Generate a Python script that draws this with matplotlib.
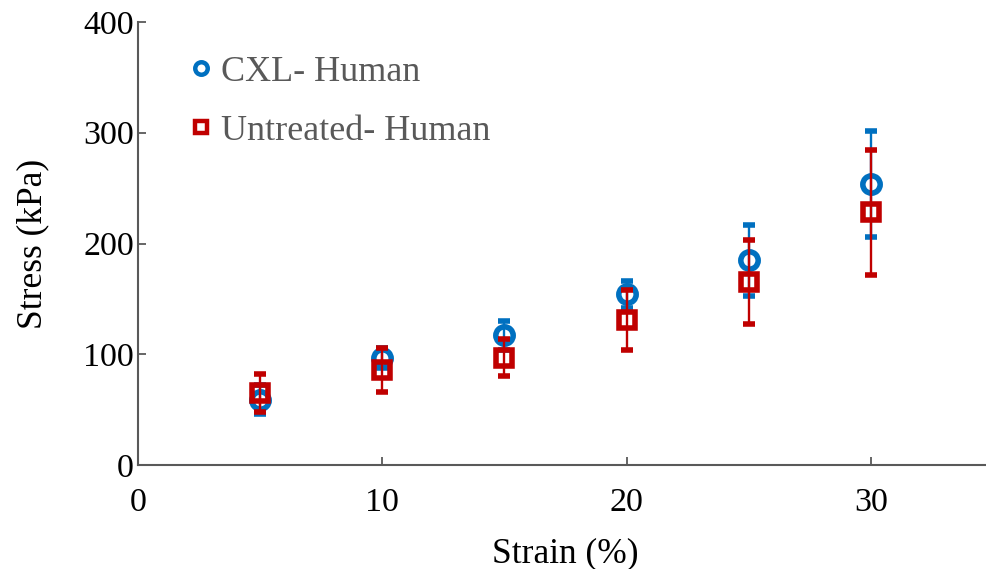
import matplotlib
matplotlib.use("Agg")
import matplotlib.pyplot as plt
from matplotlib.lines import Line2D

# strain levels (%) and mean stress (kPa) with standard deviations
strain = [5, 10, 15, 20, 25, 30]
cxl_stress = [59, 97, 117, 154, 185, 254]
cxl_sd = [13, 9, 13, 12, 32, 48]
untreated_stress = [65, 86, 97, 131, 165, 228]
untreated_sd = [17, 20, 17, 27, 38, 56]

blue = "#0070C0"
red = "#C00000"
axis_grey = "#595959"

plt.rcParams["font.family"] = ["Liberation Serif", "DejaVu Serif"]

fig = plt.figure(figsize=(9.87, 5.69), dpi=100)
ax = fig.add_axes([138 / 987, 104 / 569, (993 - 138) / 987, (465 - 22) / 569])

ax.errorbar(strain, cxl_stress, yerr=cxl_sd, fmt="o", color=blue,
            mfc="none", mec=blue, ms=12.5, mew=4, elinewidth=1.7,
            capsize=4.3, capthick=1.7, zorder=3)
ax.errorbar(strain, untreated_stress, yerr=untreated_sd, fmt="s", color=red,
            mfc="none", mec=red, ms=12, mew=4, elinewidth=1.7,
            capsize=4.3, capthick=1.7, zorder=4)

ax.set_xlim(0, 35)
ax.set_ylim(0, 400)
ax.set_xticks([0, 10, 20, 30])
ax.set_yticks([0, 100, 200, 300, 400])

for side in ["top", "right"]:
    ax.spines[side].set_visible(False)
for side in ["left", "bottom"]:
    ax.spines[side].set_color(axis_grey)
    ax.spines[side].set_linewidth(1.5)

ax.tick_params(direction="in", length=6, width=1.3, color=axis_grey,
               labelsize=24.5, labelcolor="black")
ax.tick_params(axis="x", pad=16)
ax.tick_params(axis="y", pad=3)

ax.set_xlabel("Strain (%)", fontsize=25.5, labelpad=14)
ax.set_ylabel("Stress (kPa)", fontsize=25.5, labelpad=24)

# legend with marker-only handles
handles = [
    Line2D([], [], ls="none", marker="o", mfc="none", mec=blue, ms=9, mew=3.2),
    Line2D([], [], ls="none", marker="s", mfc="none", mec=red, ms=9, mew=3.2),
]
leg = ax.legend(handles, ["CXL- Human", "Untreated- Human"], loc="upper left",
                bbox_to_anchor=(0.015, 0.997), frameon=False, fontsize=26,
                handletextpad=0.05, handlelength=1.0, labelspacing=0.7)
for text in leg.get_texts():
    text.set_color(axis_grey)

fig.savefig("out.png", dpi=100)
